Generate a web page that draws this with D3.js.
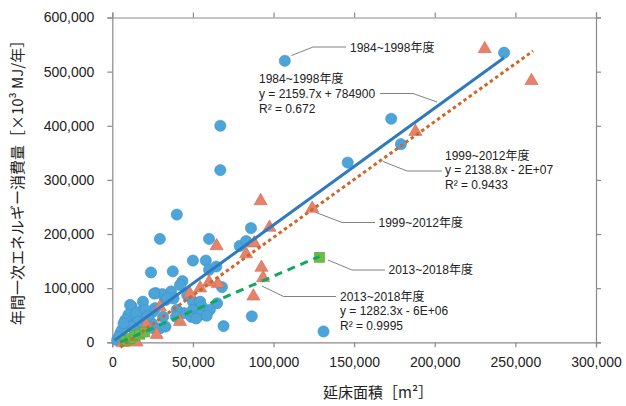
<!DOCTYPE html>
<html>
<head>
<meta charset="utf-8">
<script src="https://cdn.jsdelivr.net/npm/d3@7"></script>
<style>
  body { margin: 0; background: #fff; }
  text { font-family: "Liberation Sans", Arial, "Noto Sans CJK JP", sans-serif; }
</style>
</head>
<body>
<div id="chart"></div>
<script>
'use strict';

// floor area [m2], energy [x10^3 MJ/year]
const series1984 = [
  [107000, 520000], [67000, 400000], [67000, 318000], [243000, 535000], [173000, 413000],
  [179000, 366000], [146000, 332000], [131000, 20000], [40000, 236000], [29500, 191000],
  [60000, 191000], [86000, 211000], [79000, 178000], [83000, 187000], [50000, 151000],
  [58000, 151000], [24000, 129000], [37500, 131000], [60000, 134000], [64500, 140000],
  [43500, 113000], [68000, 102000], [86500, 48000], [69000, 30000], [65000, 72000],
  [27000, 91000], [31000, 89000], [36500, 94000], [33000, 78000], [38000, 81000],
  [46500, 87000], [50000, 75000], [54500, 75000], [55500, 66000], [50000, 60000],
  [54000, 50000], [49000, 47000], [44500, 54000], [40000, 60000], [60500, 60000],
  [58500, 49000], [52000, 44000], [39500, 47000], [26500, 63000], [25500, 26000],
  [29500, 26000], [19000, 60000], [12000, 66000], [25000, 56000], [13000, 47000],
  [10000, 44000], [16000, 44000], [9000, 29000], [5000, 17000], [3000, 4000],
  [26000, 90000], [11000, 69000], [19000, 75000], [34000, 81000], [42000, 106000],
  [10000, 51000], [15000, 54000], [20500, 60000], [8000, 41000], [16000, 38000],
  [12000, 29000], [6000, 23000], [4000, 10000], [24500, 35000], [31500, 47000],
  [33000, 29000], [22000, 48000], [7000, 35000], [14000, 20000]
];

const series1999 = [
  [231000, 543000], [260000, 484000], [188000, 390000], [124000, 248000], [92000, 262000],
  [97500, 213000], [64700, 179000], [88000, 184000], [83000, 164000], [92500, 139000],
  [93500, 120000], [87500, 86000], [65500, 109000], [60000, 112000], [54500, 101000],
  [48000, 91000], [42000, 39000], [29500, 66000], [27500, 15000], [21000, 33000],
  [6500, 0], [9000, 2000], [15000, 1000]
];

const series2013 = [
  [8000, 3000], [11000, 7000], [14000, 12000], [17000, 15000], [20000, 19000], [128500, 157000]
];

// trendline: slope, intercept (MJ), x range
const trend1984 = [2159.7, 784900, 1500, 243000];
const trend1999 = [2138.8, -2e7, 5000, 261000];
const trend2013 = [1282.3, -6e6, 5000, 128500];

const xTicks = [0, 50000, 100000, 150000, 200000, 250000, 300000];
const yTicks = [0, 100000, 200000, 300000, 400000, 500000, 600000];

const width = 626, height = 406;
const margin = [17.5, 63.7, 112.3, 30]; // top, bottom, left, right
const jp = '"Noto Sans CJK JP", "Liberation Sans", sans-serif';

const svg = d3.select('#chart')
  .append('svg')
  .attr('width', width)
  .attr('height', height);

const x = d3.scaleLinear().domain([0, 300000]).range([margin[2], width - margin[3]]);
const y = d3.scaleLinear().domain([0, 600000]).range([height - margin[1], margin[0]]);

const fmt = d3.format(',');
const axisColor = '#8a8a8a';

function styleAxis(g) {
  g.selectAll('path, line').attr('stroke', axisColor).attr('stroke-width', 1.2);
  g.selectAll('text').attr('fill', '#222').style('font-size', '14px');
}

svg.append('g')
  .attr('transform', `translate(0,${y(0)})`)
  .call(d3.axisBottom(x).tickValues(xTicks).tickFormat(fmt).tickSizeOuter(0).tickSize(5).tickPadding(10))
  .call(styleAxis);

svg.append('g')
  .attr('transform', `translate(0,${y(600000)})`)
  .call(d3.axisTop(x).tickValues(xTicks).tickFormat('').tickSizeOuter(0).tickSize(5))
  .call(styleAxis);

svg.append('g')
  .attr('transform', `translate(${x(0)},0)`)
  .call(d3.axisLeft(y).tickValues(yTicks).tickFormat(fmt).tickSizeOuter(0).tickSize(5).tickPadding(13))
  .call(styleAxis);

svg.append('g')
  .attr('transform', `translate(${x(300000)},0)`)
  .call(d3.axisRight(y).tickValues(yTicks).tickFormat('').tickSizeOuter(0).tickSize(5))
  .call(styleAxis);

// points
svg.append('g').selectAll('circle')
  .data(series1984)
  .join('circle')
  .attr('cx', d => x(d[0]))
  .attr('cy', d => y(d[1]))
  .attr('r', 5.6)
  .attr('fill', '#4da4d9')
  .attr('stroke', '#3d94c9')
  .attr('stroke-width', 0.6);

const tri = d3.symbol().type(d3.symbolTriangle).size(75);
svg.append('g').selectAll('path')
  .data(series1999)
  .join('path')
  .attr('transform', d => `translate(${x(d[0])},${y(d[1]) + 0.5})`)
  .attr('d', tri)
  .attr('fill', '#e5826a')
  .attr('stroke', '#cf6c55')
  .attr('stroke-width', 0.6);

svg.append('g').selectAll('rect')
  .data(series2013)
  .join('rect')
  .attr('x', d => x(d[0]) - 5)
  .attr('y', d => y(d[1]) - 5)
  .attr('width', 10)
  .attr('height', 10)
  .attr('fill', '#6cbb4a')
  .attr('stroke', '#55a43a')
  .attr('stroke-width', 0.6);

// trendlines
function trendLine(t, color, dash) {
  const [a, b, x0, x1] = t;
  svg.append('line')
    .attr('x1', x(x0)).attr('y1', y((a * x0 + b) / 1000))
    .attr('x2', x(x1)).attr('y2', y((a * x1 + b) / 1000))
    .attr('stroke', color)
    .attr('stroke-width', 3)
    .attr('stroke-dasharray', dash);
}
trendLine(trend1984, '#2f79bd', null);
trendLine(trend1999, '#d2662a', '3.5,3');
trendLine(trend2013, '#12a860', '8,6');

// annotations
const leaderColor = '#808080';
function leader(pts) {
  svg.append('path')
    .attr('d', d3.line()(pts))
    .attr('fill', 'none')
    .attr('stroke', leaderColor)
    .attr('stroke-width', 1);
}
function label(tx, lines, y0, dy) {
  const t = svg.append('text')
    .attr('fill', '#222')
    .style('font-size', '12px');
  lines.forEach((s, i) => {
    t.append('tspan').attr('x', tx).attr('y', y0 + i * dy).text(s);
  });
}

leader([[291.5, 55.5], [313, 47], [346, 47]]);
label(350, ['1984~1998年度'], 51.5, 0);

leader([[380, 93.5], [413, 93.5], [437, 102]]);
label(259, ['1984~1998年度', 'y = 2159.7x + 784900', 'R² = 0.672'], 83, 14.8);

leader([[383, 161.5], [407, 171], [442, 171]]);
label(445, ['1999~2012年度', 'y = 2138.8x - 2E+07', 'R² = 0.9433'], 160, 14.3);

leader([[316, 212.5], [342, 222.5], [375, 222.5]]);
label(378.5, ['1999~2012年度'], 226.8, 0);

leader([[328, 260], [352, 270], [385, 270]]);
label(388.5, ['2013~2018年度'], 274.3, 0);

leader([[262, 286], [283.5, 296.5], [336, 296.5]]);
label(340, ['2013~2018年度', 'y = 1282.3x - 6E+06', 'R² = 0.9995'], 300.7, 14.7);

// axis titles
svg.append('text')
  .attr('x', 323)
  .attr('y', 398)
  .attr('fill', '#222')
  .style('font-family', jp)
  .style('font-size', '15px')
  .text('延床面積［m²］');

svg.append('text')
  .attr('transform', 'translate(23,179) rotate(-90)')
  .attr('text-anchor', 'middle')
  .attr('fill', '#222')
  .style('font-family', jp)
  .style('font-size', '15px')
  .text('年間一次エネルギー消費量［×10³ MJ/年］');
</script>
</body>
</html>
